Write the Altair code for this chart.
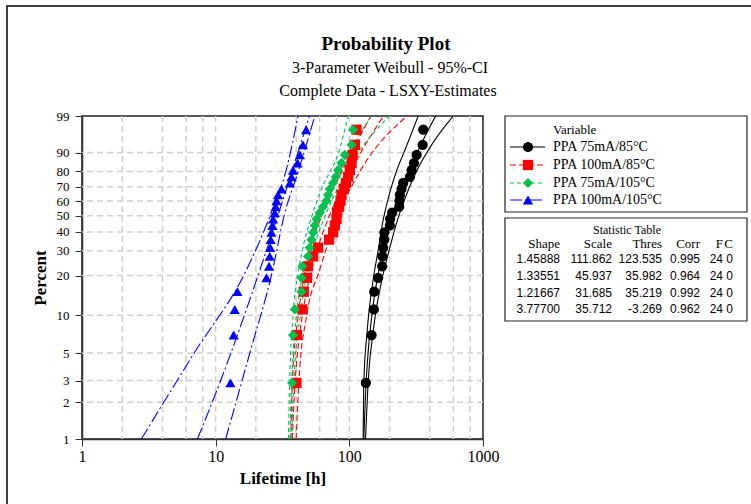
import math
import altair as alt
import pandas as pd

# ---------------- data ----------------
series = ["PPA 75mA/85°C", "PPA 100mA/85°C", "PPA 75mA/105°C", "PPA 100mA/105°C"]
colors = ["#000000", "#FF0000", "#00C050", "#0000FF"]
shapes = ["circle", "square", "diamond", "triangle-up"]
dashes = [[1, 0], [6, 3], [4, 3], [12, 3, 2, 3]]

# plotting positions (percent) of the 24 failures
rank_pct = [2.87, 6.97, 11.07, 15.16, 19.26, 23.36, 27.46, 31.56, 35.66, 39.75, 43.85, 47.95,
            52.05, 56.15, 60.25, 64.34, 68.44, 72.54, 76.64, 80.74, 84.84, 88.93, 93.03, 97.13]

life_75_85 = [132.9, 146.7, 152.6, 153.5, 164.3, 176.1, 177.0, 179.2, 182.3, 183.0, 201.1, 202.0,
              209.2, 236.1, 237.0, 238.9, 246.0, 252.9, 284.0, 292.4, 304.2, 318.7, 353.5, 357.1]
life_100_85 = [40.2, 40.6, 44.6, 45.6, 48.3, 49.1, 53.6, 58.4, 70.6, 75.6, 77.9, 80.2,
               81.0, 83.9, 86.0, 87.4, 91.0, 94.2, 98.0, 100.9, 103.9, 105.7, 110.0, 113.2]
life_75_105 = [37.3, 37.9, 39.1, 43.9, 43.9, 44.6, 49.1, 50.6, 52.1, 53.6, 55.2, 56.8,
               60.1, 63.6, 67.5, 69.4, 71.4, 75.6, 79.2, 82.4, 87.4, 92.5, 103.9, 106.8]
life_100_105 = [12.89, 13.64, 13.88, 14.54, 23.98, 25.08, 25.38, 25.6, 25.8, 26.14, 26.59, 26.87,
                27.67, 28.15, 28.50, 29.30, 31.06, 35.9, 36.9, 37.9, 41.0, 42.7, 45.0, 47.5]
life_all = [life_75_85, life_100_85, life_75_105, life_100_105]

# fitted lines (percent -> lifetime)
fit_pct = [1, 3, 5, 10, 20, 30, 50, 70, 80, 90, 95, 99]
fit_75_85 = [128.3, 133.8, 138.1, 147.5, 163.5, 178.7, 210.5, 250.6, 278.5, 321.7, 360.9, 442.2]
fit_100_85 = [37.45, 39.35, 40.95, 44.50, 50.92, 57.21, 70.89, 88.77, 101.6, 121.8, 140.5, 180.1]
fit_75_105 = [35.94, 37.02, 37.98, 40.20, 44.45, 48.80, 58.66, 72.13, 82.07, 98.11, 113.3, 146.4]
fit_100_105 = [7.30, 10.90, 13.0, 16.41, 20.74, 23.91, 29.14, 34.24, 37.24, 41.27, 44.48, 50.23]
fit_all = [fit_75_85, fit_100_85, fit_75_105, fit_100_105]

# 95% confidence bounds
ci_pct_75_85 = [1, 2.87, 7.4, 18, 31, 45, 61.5, 80, 91.4, 99]
lo_75_85 = [126.9, 128.4, 135.9, 150.0, 165.0, 177.0, 195.0, 225.0, 262.0, 327.6]
hi_75_85 = [132.2, 138.3, 150.8, 174.0, 200.0, 225.0, 260.0, 318.0, 394.0, 599.0]
ci_pct_100_85 = [1, 3, 10, 22, 50, 80, 99]
lo_100_85 = [36.5, 37.5, 41.5, 47.0, 62.0, 88.0, 145.0]
hi_100_85 = [40.0, 42.0, 48.0, 60.0, 82.0, 120.0, 270.0]
ci_pct_75_105 = [1, 3, 10, 30, 50, 70, 90, 99]
lo_75_105 = [35.0, 35.8, 38.0, 44.5, 52.5, 63.0, 83.0, 98.0]
hi_75_105 = [37.0, 38.5, 43.0, 53.5, 66.0, 83.0, 117.0, 200.0]
ci_pct_100_105 = [1, 5, 22, 50, 80, 99]
lo_100_105 = [2.78, 6.9, 17.0, 25.5, 33.5, 41.35]
hi_100_105 = [11.88, 18.0, 26.7, 32.5, 41.5, 55.2]
ci_pct_all = [ci_pct_75_85, ci_pct_100_85, ci_pct_75_105, ci_pct_100_105]
lo_all = [lo_75_85, lo_100_85, lo_75_105, lo_100_105]
hi_all = [hi_75_85, hi_100_85, hi_75_105, hi_100_105]

# statistic table
shape_vals = [1.45888, 1.33551, 1.21667, 3.77700]
scale_vals = [111.862, 45.937, 31.685, 35.712]
thres_vals = [123.535, 35.982, 35.219, -3.269]
corr_vals = [0.995, 0.964, 0.992, 0.962]
f_vals = [24, 24, 24, 24]
c_vals = [0, 0, 0, 0]

# axis ticks
x_labels = [1, 10, 100, 1000]
x_grid = [2, 4, 6, 8, 10, 20, 40, 60, 80, 100, 200, 400, 600, 800]
y_labels = [1, 2, 3, 5, 10, 20, 30, 40, 50, 60, 70, 80, 90, 99]
y_grid = [2, 3, 5, 10, 20, 30, 40, 50, 60, 70, 80, 90]

# ---------------- tables ----------------
pts = pd.DataFrame([
    {"series": s, "pct": p, "life": v}
    for s, vals in zip(series, life_all) for p, v in zip(rank_pct, vals)
])
rows = []
for s, fv, cp, lo, hi in zip(series, fit_all, ci_pct_all, lo_all, hi_all):
    rows += [{"series": s, "kind": "fit", "pct": p, "life": v} for p, v in zip(fit_pct, fv)]
    rows += [{"series": s, "kind": "lo", "pct": p, "life": v} for p, v in zip(cp, lo)]
    rows += [{"series": s, "kind": "hi", "pct": p, "life": v} for p, v in zip(cp, hi)]
lines = pd.DataFrame(rows)


def wb(p):
    return math.log(-math.log(1 - p / 100.0))


W = 401
H = 323
OX, OY = 82, 116  # plot origin in page pixels
SERIF = "Liberation Serif"
SANS = "Liberation Sans"
WEIBULL = "log(-log(1 - datum.pct/100))"

xs = alt.Scale(type="log", domain=[1, 1000], nice=False)
ys = alt.Scale(domain=[wb(1), wb(99)], nice=False, zero=False)

xaxis = alt.Axis(values=x_labels, format="d", title="Lifetime [h]", grid=False,
                 titleFont=SERIF, titleFontSize=17, titleFontWeight="bold", titleColor="black",
                 labelFont=SERIF, labelFontSize=16, labelColor="black", labelFlush=False,
                 labelPadding=2, titlePadding=6, tickSize=7, tickColor="#333",
                 domainColor="#333", domainWidth=1.5)
yaxis = alt.Axis(values=[wb(p) for p in y_labels],
                 labelExpr="format((1 - exp(-exp(datum.value))) * 100, '.0f')",
                 title="Percent", grid=False, labelOverlap=False, labelFlush=False,
                 titleFont=SERIF, titleFontSize=17, titleFontWeight="bold", titleColor="black",
                 labelFont=SERIF, labelFontSize=13, labelColor="black",
                 labelPadding=6, titlePadding=7, tickSize=7, tickColor="#333",
                 domainColor="#333", domainWidth=1.5)

X = lambda f: alt.X(f, type="quantitative", scale=xs, axis=xaxis)
Y = lambda f: alt.Y(f, type="quantitative", scale=ys, axis=yaxis)

col_scale = alt.Scale(domain=series, range=colors)
layers = []

# outer frame
layers.append(alt.Chart(pd.DataFrame({"a": [0]})).mark_rect(
    fill=None, stroke="black", strokeWidth=1.5).encode(
    x=alt.value(7 - OX), x2=alt.value(770 - OX), y=alt.value(6 - OY), y2=alt.value(520 - OY)))

# grid
layers.append(alt.Chart(pd.DataFrame({"g": x_grid})).mark_rule(
    color="#cfcfcf", strokeWidth=1.5, strokeDash=[6, 4]).encode(x=X("g")))
layers.append(alt.Chart(pd.DataFrame({"pct": y_grid})).transform_calculate(w=WEIBULL).mark_rule(
    color="#cfcfcf", strokeWidth=1.5, strokeDash=[6, 4]).encode(y=Y("w")))

# fit and confidence lines
layers.append(alt.Chart(lines).transform_calculate(w=WEIBULL).mark_line(
    strokeWidth=1.1, interpolate="monotone").encode(
    x=X("life"), y=Y("w"),
    color=alt.Color("series:N", scale=col_scale, legend=None),
    strokeDash=alt.StrokeDash("series:N", scale=alt.Scale(domain=series, range=dashes), legend=None),
    detail="kind:N", order=alt.Order("pct:Q")))

# points
layers.append(alt.Chart(pts).transform_calculate(w=WEIBULL).mark_point(
    filled=True, size=105, opacity=1).encode(
    x=X("life"), y=Y("w"),
    color=alt.Color("series:N", scale=col_scale, legend=None),
    shape=alt.Shape("series:N", scale=alt.Scale(domain=series, range=shapes), legend=None)))


def text(t, x, y, size=13, font=SERIF, align="left", weight="normal"):
    return alt.Chart(pd.DataFrame({"t": [t]})).mark_text(
        font=font, fontSize=size, align=align, baseline="middle", fontWeight=weight,
        color="black").encode(text="t:N", x=alt.value(x - OX), y=alt.value(y - OY))


# titles
layers.append(text("Probability Plot", 386, 44, size=19, align="center", weight="bold"))
layers.append(text("3-Parameter Weibull - 95%-CI", 390, 68, size=16, align="center"))
layers.append(text("Complete Data - LSXY-Estimates", 388, 91, size=16, align="center"))

# legend and table boxes
for y0, y1 in [(116, 212), (218, 321)]:
    layers.append(alt.Chart(pd.DataFrame({"a": [0]})).mark_rect(
        fill="white", stroke="#222", strokeWidth=1.2).encode(
        x=alt.value(505 - OX), x2=alt.value(747 - OX), y=alt.value(y0 - OY), y2=alt.value(y1 - OY)))

layers.append(text("Variable", 553, 130, size=13))
leg_y = [147, 165, 183, 200]
for s, c, sh, d, yy in zip(series, colors, shapes, dashes, leg_y):
    layers.append(alt.Chart(pd.DataFrame({"a": [0]})).mark_rule(
        color=c, strokeWidth=1.2, strokeDash=d).encode(
        x=alt.value(510 - OX), x2=alt.value(545 - OX), y=alt.value(yy - OY)))
    layers.append(alt.Chart(pd.DataFrame({"a": [0]})).mark_point(
        shape=sh, filled=True, size=105, color=c, opacity=1).encode(
        x=alt.value(528 - OX), y=alt.value(yy - OY)))
    layers.append(text(s, 553, yy, size=14))

# statistic table
layers.append(text("Statistic Table", 627, 230, size=12, align="center"))
col_right = [560, 612, 662, 700, 723, 733]
headers = ["Shape", "Scale", "Thres", "Corr", "F", "C"]
for h, xr in zip(headers, col_right):
    layers.append(text(h, xr, 244, size=13, align="right"))
row_y = [259, 276, 293, 309]
for i, yy in enumerate(row_y):
    cells = [f"{shape_vals[i]:.5f}", f"{scale_vals[i]:.3f}", f"{thres_vals[i]:.3f}",
             f"{corr_vals[i]:.3f}", f"{f_vals[i]}", f"{c_vals[i]}"]
    for v, xr in zip(cells, col_right):
        layers.append(text(v, xr, yy, size=12, font=SANS, align="right"))

chart = alt.layer(*layers).properties(
    width=W, height=H,
    autosize=alt.AutoSizeParams(type="none"),
    padding={"left": OX, "top": OY, "right": 751 - OX - W, "bottom": 504 - OY - H},
    background="white",
).configure_view(stroke="#222", strokeWidth=1.5)

chart.save("out.html", embed_options={"renderer": "svg", "actions": False})
